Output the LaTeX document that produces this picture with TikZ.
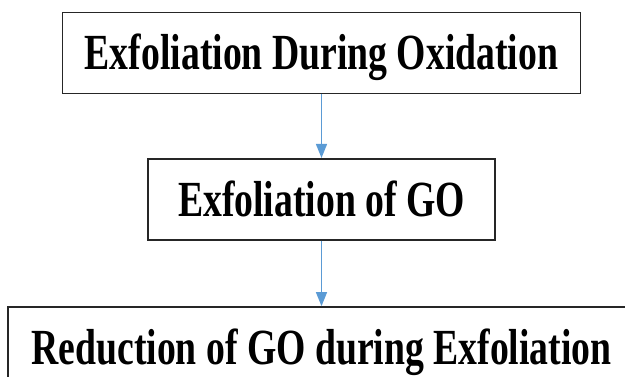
\documentclass[tikz,border=0pt]{standalone}
\usepackage{fontspec}
\setmainfont{Liberation Serif}[FakeStretch=0.745]
\usepackage{tikz}
\usetikzlibrary{positioning,arrows.meta}
\definecolor{flowblue}{RGB}{91,155,213}

\begin{document}
\begin{tikzpicture}[
            block/.style={rectangle, draw=black!85, line width=1.7pt, minimum height=81pt, inner sep=0pt, text height=40pt, text depth=6.5pt, align=center, font=\fontsize{50.6}{60}\selectfont\bfseries},
            arrow/.style={-{Triangle[length=14pt,width=11pt]}, color=flowblue, line width=1.4pt}
        ]
        \useasboundingbox (0,0) rectangle (625pt,-376pt);
        \node[block, minimum width=518pt] (oxid) at (321.5pt,-53.1pt) {Exfoliation During Oxidation};
        \node[block, minimum width=347pt, below=63.5pt of oxid] (exfgo) {Exfoliation of GO};
        \node[block, minimum width=627pt, below=65.5pt of exfgo] (redgo) {Reduction of GO during Exfoliation};
        \draw[arrow] (oxid) -- (exfgo);
        \draw[arrow] (exfgo) -- (redgo);
        \end{tikzpicture}
\end{document}
